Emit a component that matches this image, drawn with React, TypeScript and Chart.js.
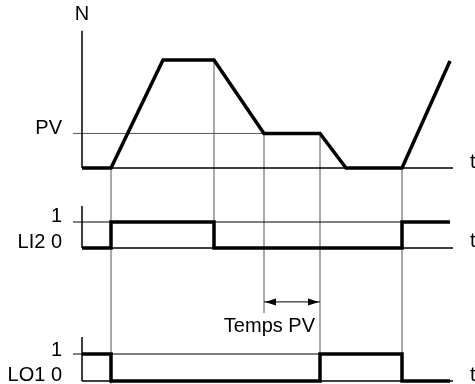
import React, { useEffect, useRef } from "react";
import { Chart, registerables } from "chart.js";

Chart.register(...registerables);

// ---- data (time in s, speed in % of max) ----
const TIMES = [0, 2.9, 8.1, 13.2, 18.2, 23.8, 26.4, 32.0, 36.8];
const SPEED = [0, 0, 100, 100, 32, 32, 0, 0, 99];
const PV = 32;
const LI2_T = [0, 2.9, 2.9, 13.2, 13.2, 32.0, 32.0, 36.8];
const LI2_V = [0, 0, 1, 1, 0, 0, 1, 1];
const LO1_T = [0, 2.9, 2.9, 23.8, 23.8, 32.0, 32.0, 36.8];
const LO1_V = [1, 1, 0, 0, 1, 1, 0, 0];
const TEMPS_PV = [18.2, 23.8];
const T_END = 37.1;
const LEVEL_START = -0.9;

// ---- layout (pixels) ----
const W = 475;
const H = 384;
const X0 = 82; // pixel of t = 0
const PX_PER_S = 10;
const N_ZERO = 168;
const N_PX = 1.08;
const LI2_ZERO = 248;
const LI2_PX = 26;
const LO1_ZERO = 381;
const LO1_PX = 27;

const FONT = '20px "Liberation Sans", Arial, sans-serif';

const pts = (xs: number[], ys: number[]) => xs.map((x, i) => ({ x, y: ys[i] }));

export default function App() {
  const ref = useRef<HTMLCanvasElement | null>(null);

  useEffect(() => {
    if (!ref.current) return;

    const overlay = {
      id: "overlay",
      beforeDatasetsDraw(chart: any) {
        const ctx = chart.ctx as CanvasRenderingContext2D;
        const sx = chart.scales.x;
        const s: any = { n: chart.scales.yN, li: chart.scales.yLI2, lo: chart.scales.yLO1 };
        const X = (t: number) => sx.getPixelForValue(t);
        const Y = (a: string, v: number) => s[a].getPixelForValue(v);
        const line = (x1: number, y1: number, x2: number, y2: number, color: string, w: number) => {
          ctx.save();
          ctx.strokeStyle = color;
          ctx.lineWidth = w;
          ctx.beginPath();
          ctx.moveTo(x1, y1);
          ctx.lineTo(x2, y2);
          ctx.stroke();
          ctx.restore();
        };
        const GUIDE = "#555";
        // guide verticals
        const guides: [number, string, number, string, number][] = [
          [TIMES[1], "n", 0, "lo", -0.1],
          [TIMES[3], "n", SPEED[3], "li", 0],
          [TEMPS_PV[0], "n", PV, "lo", 2.52],
          [TEMPS_PV[1], "n", PV, "lo", 0],
          [TIMES[7], "n", 0, "lo", 0],
        ];
        guides.forEach(([t, a1, v1, a2, v2]) => line(X(t), Y(a1, v1), X(t), Y(a2, v2), GUIDE, 1));
        // PV line and level-1 lines
        line(X(LEVEL_START), Y("n", PV), X(TEMPS_PV[0]), Y("n", PV), GUIDE, 1);
        line(X(LEVEL_START), Y("li", 1), X(TIMES[7]), Y("li", 1), "#000", 1);
        line(X(LEVEL_START), Y("lo", 1), X(TIMES[7]), Y("lo", 1), "#000", 1);
        // axes
        line(X(0), Y("n", 0), X(0), Y("n", 127), "#000", 1.5);
        line(X(0), Y("n", 0), X(T_END), Y("n", 0), "#000", 1.5);
        line(X(0), Y("li", 0), X(0), Y("li", 1.62), "#000", 1.5);
        line(X(0), Y("li", 0), X(T_END), Y("li", 0), "#000", 1.5);
        line(X(0), Y("lo", 0), X(0), Y("lo", 1.63), "#000", 1.5);
        line(X(0), Y("lo", 0), X(T_END), Y("lo", 0), "#000", 1.5);

        // Temps PV arrow
        const ay = Y("lo", 2.93);
        const ax1 = X(TEMPS_PV[0]);
        const ax2 = X(TEMPS_PV[1]);
        line(ax1, ay, ax2, ay, "#000", 1);
        ctx.save();
        ctx.fillStyle = "#000";
        const head = (xt: number, dir: number) => {
          ctx.beginPath();
          ctx.moveTo(xt, ay);
          ctx.lineTo(xt + dir * 11, ay - 3.5);
          ctx.lineTo(xt + dir * 11, ay + 3.5);
          ctx.closePath();
          ctx.fill();
        };
        head(ax1 + 1, 1);
        head(ax2 - 1, -1);
        ctx.restore();

        // texts
        ctx.save();
        ctx.fillStyle = "#000";
        ctx.font = FONT;
        ctx.textBaseline = "alphabetic";
        ctx.textAlign = "center";
        ctx.fillText("N", X(0), Y("n", 137));
        ctx.textAlign = "right";
        const lx = X(-2.0);
        ctx.fillText("PV", lx, Y("n", PV) + 1);
        ctx.fillText("1", lx, Y("li", 1));
        ctx.fillText("LI2 0", lx, Y("li", 0));
        ctx.fillText("1", lx, Y("lo", 1) + 2);
        ctx.fillText("LO1 0", lx, Y("lo", 0));
        ctx.fillText("Temps PV", ax2 - 5, Y("lo", 1.81));
        ctx.textAlign = "left";
        const tx = X(38.8);
        ctx.fillText("t", tx, Y("n", 0));
        ctx.fillText("t", tx, Y("li", 0) - 1);
        ctx.fillText("t", tx, Y("lo", 0));
        ctx.restore();
      },
    };

    const xMin = -X0 / PX_PER_S;
    const xMax = (W - X0) / PX_PER_S;

    const thick = {
      showLine: true,
      borderColor: "#000",
      borderWidth: 3.5,
      pointRadius: 0,
      fill: false,
      tension: 0,
      borderJoinStyle: "miter" as const,
      borderCapStyle: "butt" as const,
    };

    const chart = new Chart(ref.current, {
      type: "scatter",
      data: {
        datasets: [
          { ...thick, label: "N", data: pts(TIMES, SPEED), yAxisID: "yN" },
          { ...thick, label: "LI2", data: pts(LI2_T, LI2_V), yAxisID: "yLI2" },
          { ...thick, label: "LO1", data: pts(LO1_T, LO1_V), yAxisID: "yLO1" },
        ],
      },
      options: {
        animation: false,
        responsive: false,
        layout: { padding: 0 },
        plugins: { legend: { display: false }, tooltip: { enabled: false }, title: { display: false } },
        scales: {
          x: { type: "linear", display: false, min: xMin, max: xMax },
          yN: { type: "linear", display: false, min: (N_ZERO - H) / N_PX, max: N_ZERO / N_PX },
          yLI2: { type: "linear", display: false, min: (LI2_ZERO - H) / LI2_PX, max: LI2_ZERO / LI2_PX },
          yLO1: { type: "linear", display: false, min: (LO1_ZERO - H) / LO1_PX, max: LO1_ZERO / LO1_PX },
        },
      },
      plugins: [overlay],
    });
    return () => chart.destroy();
  }, []);

  return (
    <div style={{ position: "fixed", left: 0, top: 0, width: W, height: H, background: "#fff" }}>
      <canvas ref={ref} width={W} height={H} style={{ display: "block", width: W, height: H }} />
    </div>
  );
}
